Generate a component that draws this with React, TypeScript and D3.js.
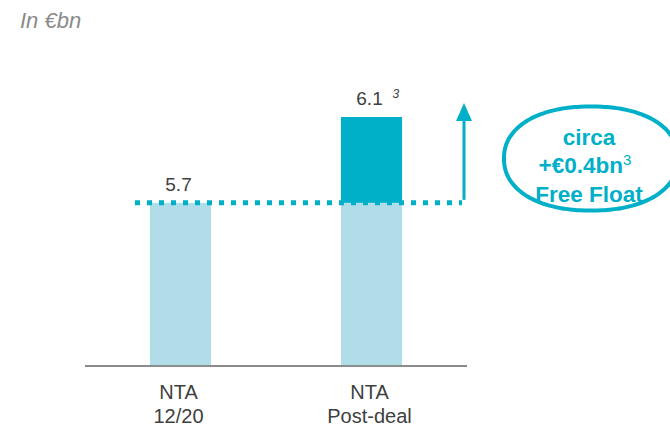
import React from "react";
import * as d3 from "d3";

const categories = ["NTA|12/20", "NTA|Post-deal"];
const baseValues = [5.7, 5.7];
const totalValues = [5.7, 6.1];
const valueLabels = ["5.7", "6.1"];
const valueNotes = ["", "3"];
const unitLabel = "In €bn";
const calloutLines = ["circa", "+€0.4bn", "Free Float"];

const W = 670;
const H = 426;
const LIGHT = "#B1DDE9";
const DARK = "#00AFC8";
const TEXT = "#404040";
const FONT = "Arial, 'Liberation Sans', sans-serif";

function superEllipse(cx: number, cy: number, a: number, b: number, n: number) {
  const pts: [number, number][] = d3.range(0, 360, 3).map((deg) => {
    const t = (deg * Math.PI) / 180;
    const c = Math.cos(t);
    const s = Math.sin(t);
    return [cx + a * Math.sign(c) * Math.pow(Math.abs(c), 2 / n), cy + b * Math.sign(s) * Math.pow(Math.abs(s), 2 / n)];
  });
  return d3.line().curve(d3.curveCardinalClosed)(pts) || "";
}

export default function App() {
  const x = d3.scaleBand().domain(categories).range([85, 467]).paddingInner(0.68).paddingOuter(0.34);
  const y = d3.scaleLinear().domain([4.94, 6.1]).range([366, 117]);
  const bw = x.bandwidth();
  const refY = y(baseValues[0]);
  return (
    <svg width={W} height={H} style={{ position: "absolute", left: 0, top: 0 }} fontFamily={FONT}>
      <text x={20} y={28} fontSize={22} fontStyle="italic" fill="#8a8a8a">{unitLabel}</text>
      {categories.map((c, i) => {
        const x0 = x(c)!;
        const cx = x0 + bw / 2;
        const [l1, l2] = c.split("|");
        return (
          <g key={c}>
            <rect x={x0} y={y(baseValues[i])} width={bw} height={y.range()[0] - y(baseValues[i])} fill={LIGHT} />
            {totalValues[i] > baseValues[i] && (
              <rect x={x0} y={y(totalValues[i])} width={bw} height={y(baseValues[i]) - y(totalValues[i])} fill={DARK} />
            )}
            <text x={cx - 2} y={y(totalValues[i]) - 12} fontSize={19} fill={TEXT} textAnchor="middle">{valueLabels[i]}</text>
            {valueNotes[i] && (
              <text x={cx + 21} y={y(totalValues[i]) - 19} fontSize={12} fontStyle="italic" fill={TEXT}>{valueNotes[i]}</text>
            )}
            <text x={cx - 2} y={399} fontSize={20} fill={TEXT} textAnchor="middle">{l1}</text>
            <text x={cx - 2} y={423} fontSize={20} fill={TEXT} textAnchor="middle">{l2}</text>
          </g>
        );
      })}
      <line x1={85} x2={467} y1={366} y2={366} stroke="#8c8c8c" strokeWidth={2} />
      <line x1={135} x2={462} y1={refY} y2={refY} stroke={DARK} strokeWidth={5} strokeDasharray="5 7" />
      <line x1={464} x2={464} y1={refY - 3} y2={118} stroke={DARK} strokeWidth={3} />
      <path d={`M456,121 L472,121 L464,103 Z`} fill={DARK} />
      <path d={superEllipse(591, 158.5, 87, 52, 2.2)} fill="none" stroke={DARK} strokeWidth={4} />
      <g fontSize={22.5} fontWeight="bold" fill={DARK} textAnchor="middle">
        <text x={589} y={145}>{calloutLines[0]}</text>
        <text x={585} y={173}>{calloutLines[1]}<tspan fontWeight="normal" fontSize={15} dy={-8}>3</tspan></text>
        <text x={589} y={202}>{calloutLines[2]}</text>
      </g>
    </svg>
  );
}
